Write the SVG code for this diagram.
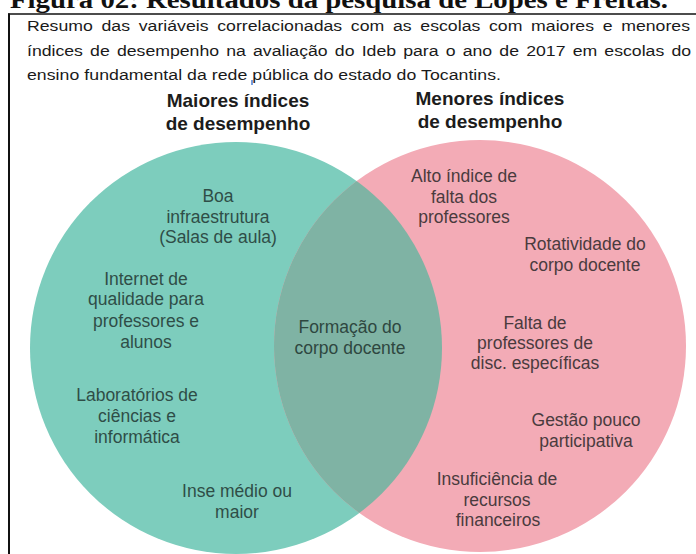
<svg xmlns="http://www.w3.org/2000/svg" width="696" height="554" viewBox="0 0 696 554">
  <style>
    .title { font-family: "Liberation Serif", "Times New Roman", serif; font-weight: bold; font-size: 26px; fill: #111; }
    .para { font-family: "Liberation Sans", Arial, sans-serif; font-size: 15.5px; fill: #1a1a1a; }
    .head { font-family: "Liberation Sans", Arial, sans-serif; font-weight: bold; font-size: 19px; fill: #1c1c1c; text-anchor: middle; }
    .lbl { font-family: "Liberation Sans", Arial, sans-serif; font-size: 17.5px; text-anchor: middle; }
    .on-green { fill: #2f4d47; }
    .on-mid { fill: #2e4740; }
    .on-pink { fill: #4a3b3e; }
  </style>
  <defs>
    <clipPath id="clipGreen">
      <circle cx="236" cy="348" r="206"/>
    </clipPath>
  </defs>

  <rect x="0" y="0" width="696" height="554" fill="#ffffff"/>

  <!-- figure caption, partly above the frame -->
  <text class="title" x="10" y="8" textLength="658" lengthAdjust="spacingAndGlyphs">Figura 02: Resultados da pesquisa de Lopes e Freitas.</text>

  <!-- frame -->
  <line x1="8" y1="14" x2="696" y2="14" stroke="#111" stroke-width="1.6"/>
  <line x1="9" y1="13.5" x2="9" y2="554" stroke="#111" stroke-width="2"/>

  <!-- summary paragraph (justified, slightly wide type) -->
  <g id="summary" transform="translate(27,0) scale(1.14,1)">
    <text class="para" x="0" y="31" word-spacing="3.3" textLength="581.6" lengthAdjust="spacing">Resumo das variáveis correlacionadas com as escolas com maiores e menores</text>
    <text class="para" x="0" y="56" word-spacing="2" textLength="582.5" lengthAdjust="spacing">índices de desempenho na avaliação do Ideb para o ano de 2017 em escolas do</text>
    <text class="para" x="0" y="80" textLength="415.8" lengthAdjust="spacing">ensino fundamental da rede pública do estado do Tocantins.</text>
  </g>

  <!-- set circles -->
  <g id="set-maiores">
    <circle cx="236" cy="348" r="206" fill="#7dcdbd"/>
  </g>
  <g id="set-menores">
    <circle cx="480" cy="346" r="206" fill="#f3abb6"/>
  </g>
  <g id="set-intersecao">
    <circle cx="480" cy="346" r="206" fill="#7fb3a4" clip-path="url(#clipGreen)"/>
  </g>

  <!-- set headings -->
  <g id="heading-maiores">
    <line x1="252" y1="80" x2="252" y2="85" stroke="#4a7bd0" stroke-width="1.5"/>
    <text class="head" x="238" y="107">Maiores índices</text>
    <text class="head" x="238" y="130">de desempenho</text>
  </g>
  <g id="heading-menores">
    <text class="head" x="490" y="105">Menores índices</text>
    <text class="head" x="490" y="128">de desempenho</text>
  </g>

  <!-- items of the "maiores" set -->
  <g id="item-infraestrutura" class="lbl on-green">
    <text x="218" y="202">Boa</text>
    <text x="218" y="223">infraestrutura</text>
    <text x="218" y="243">(Salas de aula)</text>
  </g>
  <g id="item-internet" class="lbl on-green">
    <text x="146" y="285">Internet de</text>
    <text x="146" y="305">qualidade para</text>
    <text x="146" y="327">professores e</text>
    <text x="146" y="348">alunos</text>
  </g>
  <g id="item-laboratorios" class="lbl on-green">
    <text x="137" y="401">Laboratórios de</text>
    <text x="137" y="422">ciências e</text>
    <text x="137" y="443">informática</text>
  </g>
  <g id="item-inse" class="lbl on-green">
    <text x="237" y="497">Inse médio ou</text>
    <text x="237" y="518">maior</text>
  </g>

  <!-- shared item -->
  <g id="item-formacao" class="lbl on-mid">
    <text x="350" y="333">Formação do</text>
    <text x="350" y="354">corpo docente</text>
  </g>

  <!-- items of the "menores" set -->
  <g id="item-faltas" class="lbl on-pink">
    <text x="464" y="182">Alto índice de</text>
    <text x="464" y="203">falta dos</text>
    <text x="464" y="223">professores</text>
  </g>
  <g id="item-rotatividade" class="lbl on-pink">
    <text x="585" y="250">Rotatividade do</text>
    <text x="585" y="271">corpo docente</text>
  </g>
  <g id="item-disciplinas" class="lbl on-pink">
    <text x="535" y="329">Falta de</text>
    <text x="535" y="349">professores de</text>
    <text x="535" y="369">disc. específicas</text>
  </g>
  <g id="item-gestao" class="lbl on-pink">
    <text x="586" y="426">Gestão pouco</text>
    <text x="586" y="447">participativa</text>
  </g>
  <g id="item-recursos" class="lbl on-pink">
    <text x="497" y="485">Insuficiência de</text>
    <text x="497" y="506">recursos</text>
    <text x="498" y="526">financeiros</text>
  </g>
</svg>
